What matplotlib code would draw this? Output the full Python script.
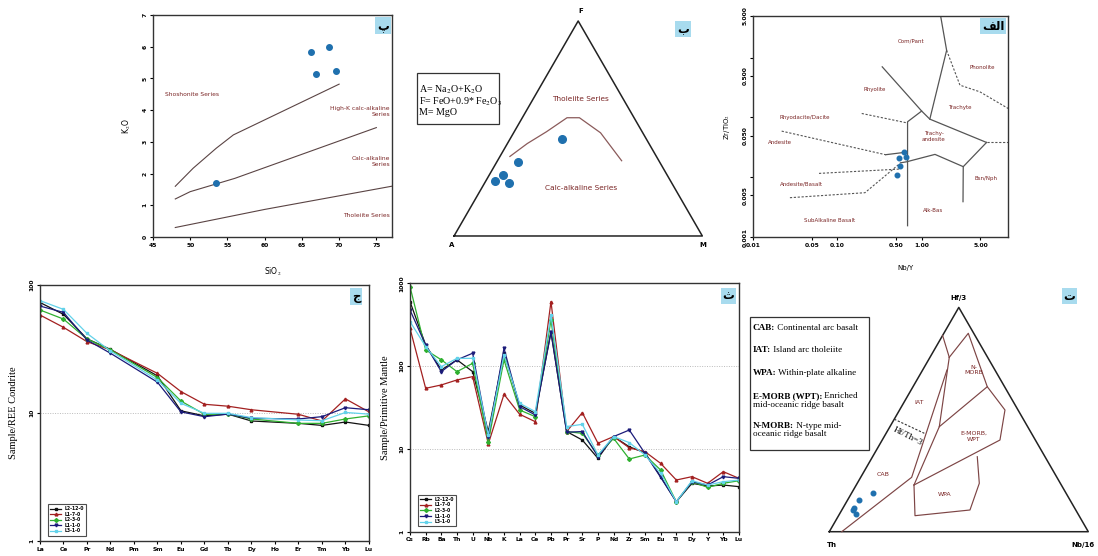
import numpy as np
import matplotlib.pyplot as plt
from matplotlib.patches import Rectangle
from matplotlib.ticker import NullFormatter

plt.rcParams['font.family'] = ['DejaVu Sans']
plt.rcParams['font.serif'] = ['Liberation Serif']
plt.rcParams['mathtext.fontset'] = 'stix'

# ---------------- data ----------------
# panel pe : K2O vs SiO2
sio2 = [66.2, 68.7, 66.9, 69.6, 53.5]
k2o = [5.83, 6.0, 5.13, 5.24, 1.71]
shosh_x = [48, 50.4, 53.5, 55.8, 70]
shosh_y = [1.6, 2.17, 2.8, 3.22, 4.82]
hik_x = [48, 50, 56, 75]
hik_y = [1.2, 1.43, 1.85, 3.45]
calc_x = [48, 60, 77.5]
calc_y = [0.3, 0.87, 1.62]

# panel be : AFM ternary (percent)
afm_a = [33.9, 56.9, 65.9, 70.7, 65.5]
afm_f = [44.9, 34.5, 28.4, 25.6, 24.5]
afm_m = [21.2, 8.6, 5.7, 3.7, 10.0]
div_a = [59, 49, 38.5, 27, 22, 17, 15]
div_f = [37, 43, 48.5, 55, 55, 48, 35]
div_m = [4, 8, 13, 18, 23, 35, 50]

# panel alef : Zr/TiO2 vs Nb/Y
nby = [0.621, 0.644, 0.542, 0.557, 0.504]
zrti = [0.0268, 0.0221, 0.0213, 0.0156, 0.0109]
solid_lines = [
    ([1.68, 1.98, 1.25], [4.95, 1.32, 0.0938]),
    ([0.34, 1.0, 1.25, 5.9], [0.70, 0.128, 0.0938, 0.0383]),
    ([1.0, 0.68, 0.68], [0.128, 0.0848, 0.00156]),
    ([5.9, 3.12, 3.10], [0.0383, 0.0151, 0.00393]),
    ([3.12, 1.44, 0.662, 0.56], [0.0151, 0.0242, 0.0182, 0.0175]),
    ([0.373, 0.662], [0.0239, 0.0264]),
]
dashed_lines = [
    ([0.0217, 0.373], [0.0592, 0.0239]),
    ([0.194, 0.662], [0.1166, 0.0815]),
    ([0.0603, 0.552], [0.01166, 0.01377]),
    ([0.0272, 0.212, 0.552], [0.00458, 0.00555, 0.0171]),
    ([1.98, 2.85, 4.92, 10.7], [1.32, 0.346, 0.268, 0.141]),
    ([5.9, 10.7], [0.0383, 0.0383]),
]
wf_names = ['Com/Pant', 'Phonolite', 'Rhyolite', 'Trachyte', 'Rhyodacite/Dacite',
            'Trachy-\nandesite', 'Andesite', 'Andesite/Basalt', 'Bsn/Nph', 'Alk-Bas',
            'SubAlkaline Basalt']
wf_x = [0.746, 5.2, 0.274, 2.85, 0.0404, 1.4, 0.0207, 0.0368, 5.8, 1.37, 0.0815]
wf_y = [1.9, 0.68, 0.293, 0.147, 0.0986, 0.0477, 0.0379, 0.00764, 0.0096, 0.00278, 0.0019]

# panel jim : REE chondrite normalised
ree = ['La', 'Ce', 'Pr', 'Nd', 'Pm', 'Sm', 'Eu', 'Gd', 'Tb', 'Dy', 'Ho', 'Er', 'Tm', 'Yb', 'Lu']
samples = ['L2-12-0', 'L1-7-0', 'L2-3-0', 'L1-1-0', 'L3-1-0']
nan = np.nan
ree_L2_12 = [73, 59, 38, 31.4, nan, 19.5, 10.4, 9.5, 9.8, 8.66, nan, 8.3, 8.0, 8.5, 8.0]
ree_L1_7 = [58.3, 46.7, 36.1, 31.1, nan, 20.4, 14.7, 11.7, 11.3, 10.6, nan, 9.77, 8.66, 12.9, 10.2]
ree_L2_3 = [63.8, 54.2, 37.9, 31.1, nan, 18.9, 12.4, 9.77, 9.8, 8.98, nan, 8.3, 8.3, 8.98, 9.5]
ree_L1_1 = [68.5, 61.1, 37.2, 29.3, nan, 17.4, 10.2, 9.36, 9.8, 9.09, nan, 8.98, 9.36, 11.0, 10.6]
ree_L3_1 = [75.5, 64.5, 41.9, 30.5, nan, 18.1, 11.9, 9.94, 9.94, 9.2, nan, 8.82, 8.7, 10.1, 9.8]

# panel se : primitive mantle spider
spd = ['Cs', 'Rb', 'Ba', 'Th', 'U', 'Nb', 'K', 'La', 'Ce', 'Pb', 'Pr', 'Sr', 'P', 'Nd',
       'Zr', 'Sm', 'Eu', 'Ti', 'Dy', 'Y', 'Yb', 'Lu']
pm_L2_12 = [601, 180, 89.8, 119, 85.7, 16.2, 143, 33.9, 26.9, 255, 16.2, 12.8, 7.69, 14.1,
            10.6, 9.0, 4.62, 2.3, 3.84, 3.56, 3.66, 3.5]
pm_L1_7 = [286, 53.9, 59.2, 68, 74.6, 11.5, 45.6, 26.2, 21.3, 601, 16.2, 27.4, 11.7, 14.1,
           10.3, 9.26, 6.69, 4.21, 4.62, 3.84, 5.31, 4.41]
pm_L2_3 = [912, 157, 119, 85.7, 108, 12.2, 119, 29.5, 24.5, 361, 16.2, 15.4, 8.44, 13.4,
           7.55, 8.44, 5.56, 2.3, 4.02, 3.43, 3.84, 4.13]
pm_L1_1 = [476, 180, 85.7, 119, 143, 14.1, 164, 32.4, 25.7, 261, 15.9, 16.2, 8.06, 14.1,
           16.9, 8.84, 4.54, 2.3, 4.02, 3.66, 4.62, 4.41]
pm_L3_1 = [345, 172, 98.5, 124, 124, 14.7, 136, 35.5, 28.2, 415, 18.6, 19.8, 8.44, 14.1,
           11.9, 8.44, 5.07, 2.3, 4.13, 3.66, 4.02, 4.2]

# panel te : Hf/3 - Th - Nb/16 ternary (fractions hf, th, nb)
hf_pts = [0.1712, 0.1413, 0.1043, 0.0968, 0.0789]
th_pts = [0.7445, 0.8136, 0.8514, 0.8589, 0.8586]
nb_pts = [0.0843, 0.0451, 0.0443, 0.0443, 0.0625]
fields = [
    ([0.875, 0.7776], [0.125, 0.148], [0.0, 0.0745]),
    ([0.7776, 0.8845, 0.6464, 0.5426, 0.4088, 0.2082],
     [0.148, 0.021, 0.0668, 0.0504, 0.1366, 0.5689],
     [0.0745, 0.0944, 0.2868, 0.407, 0.4546, 0.2229]),
    ([0.6464, 0.4681], [0.0668, 0.3412], [0.2868, 0.1907]),
    ([0.7776, 0.4681, 0.2082], [0.148, 0.3412, 0.5689], [0.0745, 0.1907, 0.2229]),
    ([0.7209, 0.2425, 0.0], [0.1852, 0.5607, 0.952], [0.0939, 0.1968, 0.048]),
    ([0.2082, 0.0714, 0.0968, 0.2158, 0.3344],
     [0.5689, 0.6334, 0.4084, 0.3129, 0.2614],
     [0.2229, 0.2952, 0.4948, 0.4713, 0.4042]),
]
hfth3 = ([0.5016, 0.4388], [0.4984, 0.4138], [0.0, 0.1474])

colors = ['#111111', '#a32020', '#2fb02f', '#1b1b7a', '#62d2ea']
markers = ['s', '^', 'D', 'v', 's']

BROWN = '#7a2525'
DOT = '#1f70ae'


def tag(ax, x, y, s, trans=None):
    ax.text(x, y, s, transform=trans if trans is not None else ax.transAxes,
            ha='center', va='center', fontsize=8.5, fontweight='bold', color='black',
            bbox=dict(boxstyle='square,pad=0.15', fc='#a8dbee', ec='none'), zorder=6)


def afm_xy(a, f, m):
    a, f, m = np.asarray(a, float), np.asarray(f, float), np.asarray(m, float)
    s = a + f + m
    return (m + 0.5 * f) / s, 0.866 * f / s


def hf_xy(hf, th, nb):
    hf, th, nb = np.asarray(hf, float), np.asarray(th, float), np.asarray(nb, float)
    s = hf + th + nb
    return (nb + 0.5 * hf) / s, 0.866 * hf / s


def small_ticks(ax):
    ax.tick_params(labelsize=4.3, length=2.5, width=0.8, pad=1.5)
    for lab in ax.get_xticklabels() + ax.get_yticklabels():
        lab.set_fontweight('bold')
    for sp in ax.spines.values():
        sp.set_linewidth(1.0)
        sp.set_color('#333333')


fig = plt.figure(figsize=(10.98, 5.56), dpi=100)
fig.patch.set_facecolor('white')

# ---------------- pe ----------------
ax1 = fig.add_axes([0.1393, 0.5737, 0.2177, 0.3993])
ax1.plot(shosh_x, shosh_y, color='#5a4444', lw=0.8)
ax1.plot(hik_x, hik_y, color='#5a4444', lw=0.8)
ax1.plot(calc_x, calc_y, color='#5a4444', lw=0.8)
ax1.plot(sio2, k2o, 'o', color=DOT, ms=4)
ax1.set_xlim(45, 77.1)
ax1.set_ylim(0, 7)
ax1.set_xticks([45, 50, 55, 60, 65, 70, 75])
ax1.set_yticks(range(8))
ax1.set_yticklabels([str(i) for i in range(8)], rotation=90, va='center')
small_ticks(ax1)
ax1.set_xlabel('SiO$_2$', fontsize=5.5)
ax1.xaxis.set_label_coords(0.5, -0.13)
ax1.set_ylabel('K$_2$O', fontsize=5.5)
ax1.yaxis.set_label_coords(-0.085, 0.5)
ax1.text(50.3, 4.5, 'Shoshonite Series', fontsize=4.3, color=BROWN, ha='center', va='center')
ax1.text(76.8, 3.97, 'High-K calc-alkaline\nSeries', fontsize=4.3, color=BROWN, ha='right', va='center')
ax1.text(76.8, 2.38, 'Calc-alkaline\nSeries', fontsize=4.3, color=BROWN, ha='right', va='center')
ax1.text(76.8, 0.69, 'Tholeiite Series', fontsize=4.3, color=BROWN, ha='right', va='center')
tag(ax1, 0.962, 0.952, '\u067E')

# ---------------- be ----------------
ax2 = fig.add_axes([0.3689, 0.5234, 0.2823, 0.4766])
ax2.set_xlim(-0.1973, 1.0511)
ax2.set_ylim(-0.1168, 0.9505)
ax2.axis('off')
tx, ty = afm_xy([100, 0, 0, 100], [0, 0, 100, 0], [0, 100, 0, 0])
ax2.plot(tx, ty, color='#222222', lw=1.1)
cx, cy = afm_xy(div_a, div_f, div_m)
ax2.plot(cx, cy, color='#8a5a5a', lw=0.9)
px, py = afm_xy(afm_a, afm_f, afm_m)
ax2.plot(px, py, 'o', color=DOT, ms=5.5)
ax2.text(0.51, 0.905, 'F', fontsize=5, fontweight='bold', ha='center', va='center')
ax2.text(-0.008, -0.036, 'A', fontsize=5, fontweight='bold', ha='center', va='center')
ax2.text(1.003, -0.036, 'M', fontsize=5, fontweight='bold', ha='center', va='center')
ax2.text(0.51, 0.55, 'Tholeiite Series', fontsize=5.3, color=BROWN, ha='center', va='center')
ax2.text(0.51, 0.195, 'Calc-alkaline Series', fontsize=5.3, color=BROWN, ha='center', va='center')
ax2.add_patch(Rectangle((-0.150, 0.451), 0.331, 0.205, fill=False, ec='#333333', lw=0.9))
ax2.text(-0.142, 0.588, 'A= Na$_2$O+K$_2$O', family='serif', fontsize=7.2, va='center')
ax2.text(-0.142, 0.541, 'F= FeO+0.9* Fe$_2$O$_3$', family='serif', fontsize=7.2, va='center')
ax2.text(-0.142, 0.497, 'M= MgO', family='serif', fontsize=7.2, va='center')
tag(ax2, 0.922, 0.834, '\u0628', trans=ax2.transData)

# ---------------- alef ----------------
ax3 = fig.add_axes([0.6861, 0.5732, 0.2322, 0.3986])
ax3.set_xscale('log')
ax3.set_yscale('log')
for xs, ys in solid_lines:
    ax3.plot(xs, ys, color='#555555', lw=0.9)
for xs, ys in dashed_lines:
    ax3.plot(xs, ys, color='#555555', lw=0.8, ls=(0, (2, 1.5)))
ax3.plot(nby, zrti, 'o', color=DOT, ms=3.3)
for name, x, y in zip(wf_names, wf_x, wf_y):
    ax3.text(x, y, name, fontsize=4, color=BROWN, ha='center', va='center')
ax3.set_xlim(0.01, 10.7)
ax3.set_ylim(0.001, 5)
ax3.set_xticks([0.01, 0.05, 0.1, 0.5, 1, 5])
ax3.set_xticklabels(['0.01', '0.05', '0.10', '0.50', '1.00', '5.00'])
ax3.set_xticks([], minor=True)
ax3.set_yticks([0.001, 0.005, 0.05, 0.5, 5])
ax3.set_yticklabels(['0.001', '0.005', '0.050', '0.500', '5.000'], rotation=90, va='center')
ax3.set_yticks([0.01, 0.1, 1], minor=True)
ax3.xaxis.set_minor_formatter(NullFormatter())
ax3.yaxis.set_minor_formatter(NullFormatter())
ax3.tick_params(which='minor', length=2.5, width=0.8)
small_ticks(ax3)
ax3.set_xlabel('Nb/Y', fontsize=5)
ax3.xaxis.set_label_coords(0.595, -0.125)
ax3.set_ylabel('Zr/TiO$_2$', fontsize=5)
ax3.yaxis.set_label_coords(-0.085, 0.5)
tag(ax3, 0.94, 0.953, '\uFED2\uFEDF\uFE8D')

# ---------------- jim ----------------
ax4 = fig.add_axes([0.0364, 0.027, 0.2996, 0.4604])
xr = np.arange(len(ree))
for name, vals, c, mk in zip(samples, [ree_L2_12, ree_L1_7, ree_L2_3, ree_L1_1, ree_L3_1], colors, markers):
    v = np.array(vals, float)
    ok = ~np.isnan(v)
    ax4.plot(xr[ok], v[ok], color=c, marker=mk, ms=2, lw=0.9, label=name)
ax4.axhline(10, color='#bbbbbb', lw=0.7, ls=(0, (1, 1.5)), zorder=0)
ax4.set_yscale('log')
ax4.set_xlim(0, len(ree) - 1)
ax4.set_ylim(1, 100)
ax4.set_xticks(xr)
ax4.set_xticklabels(ree)
ax4.set_yticks([1, 10, 100])
ax4.set_yticklabels(['1', '10', '100'], rotation=90, va='center')
ax4.set_yticks([], minor=True)
small_ticks(ax4)
ax4.set_ylabel('Sample/REE Condrite', family='serif', fontsize=7.5)
ax4.yaxis.set_label_coords(-0.067, 0.5)
leg = ax4.legend(loc='lower left', bbox_to_anchor=(0.018, 0.012), fontsize=3.3, frameon=True,
                 fancybox=False, edgecolor='#222222', handlelength=2.2, borderpad=0.5,
                 labelspacing=0.12, handletextpad=0.8)
leg.get_frame().set_linewidth(0.8)
for t in leg.get_texts():
    t.set_fontweight('bold')
tag(ax4, 0.962, 0.955, '\u062C')

# ---------------- se ----------------
ax5 = fig.add_axes([0.3734, 0.0437, 0.2996, 0.4468])
xs5 = np.arange(len(spd))
for name, vals, c, mk in zip(samples, [pm_L2_12, pm_L1_7, pm_L2_3, pm_L1_1, pm_L3_1], colors, markers):
    ax5.plot(xs5, vals, color=c, marker=mk, ms=2, lw=0.9, label=name)
ax5.axhline(10, color='#bbbbbb', lw=0.7, ls=(0, (1, 1.5)), zorder=0)
ax5.axhline(100, color='#bbbbbb', lw=0.7, ls=(0, (1, 1.5)), zorder=0)
ax5.set_yscale('log')
ax5.set_xlim(0, len(spd) - 1)
ax5.set_ylim(1, 1000)
ax5.set_xticks(xs5)
ax5.set_xticklabels(spd)
ax5.set_yticks([1, 10, 100, 1000])
ax5.set_yticklabels(['1', '10', '100', '1000'], rotation=90, va='center')
ax5.set_yticks([], minor=True)
small_ticks(ax5)
ax5.set_ylabel('Sample/Primitive Mantle', family='serif', fontsize=7.5)
ax5.yaxis.set_label_coords(-0.061, 0.5)
leg = ax5.legend(loc='lower left', bbox_to_anchor=(0.018, 0.012), fontsize=3.3, frameon=True,
                 fancybox=False, edgecolor='#222222', handlelength=2.2, borderpad=0.5,
                 labelspacing=0.12, handletextpad=0.8)
leg.get_frame().set_linewidth(0.8)
for t in leg.get_texts():
    t.set_fontweight('bold')
tag(ax5, 0.968, 0.949, '\u062B')

# ---------------- te ----------------
ax6 = fig.add_axes([0.6785, 0.0, 0.3215, 0.4874])
ax6.set_xlim(-0.3255, 1.0375)
ax6.set_ylim(-0.0938, 0.9525)
ax6.axis('off')
tx, ty = hf_xy([0, 0, 1, 0], [1, 0, 0, 1], [0, 1, 0, 0])
ax6.plot(tx, ty, color='#222222', lw=1.1)
for h, t, n in fields:
    fx, fy = hf_xy(h, t, n)
    ax6.plot(fx, fy, color='#7d4545', lw=0.85)
dx, dy = hf_xy(*hfth3)
ax6.plot(dx, dy, color='#333333', lw=0.8, ls=(0, (2, 1.5)))
ax6.text(0.302, 0.366, 'Hf/Th=3', family='serif', fontsize=6.5, rotation=-27, ha='center', va='center')
px, py = hf_xy(hf_pts, th_pts, nb_pts)
ax6.plot(px, py, 'o', color=DOT, ms=3.3)
ax6.text(0.558, 0.624, 'N-\nMORB', fontsize=4.5, color=BROWN, ha='center', va='center')
ax6.text(0.346, 0.500, 'IAT', fontsize=4.5, color=BROWN, ha='center', va='center')
ax6.text(0.558, 0.3676, 'E-MORB,\nWPT', fontsize=4.5, color=BROWN, ha='center', va='center')
ax6.text(0.206, 0.219, 'CAB', fontsize=4.5, color=BROWN, ha='center', va='center')
ax6.text(0.447, 0.145, 'WPA', fontsize=4.5, color=BROWN, ha='center', va='center')
ax6.text(0.497, 0.902, 'Hf/3', fontsize=5, fontweight='bold', ha='center', va='center')
ax6.text(0.0104, -0.051, 'Th', fontsize=5, fontweight='bold', ha='center', va='center')
ax6.text(0.98, -0.051, 'Nb/16', fontsize=5, fontweight='bold', ha='center', va='center')
ax6.add_patch(Rectangle((-0.306, 0.3154), 0.459, 0.5146, fill=False, ec='#333333', lw=0.9))
box_lines = [('CAB:', ' Continental arc basalt', 0.785),
             ('IAT:', ' Island arc tholeiite', 0.7015),
             ('WPA:', ' Within-plate alkaline', 0.614),
             ('E-MORB (WPT):', ' Enriched', 0.524),
             ('', 'mid-oceanic ridge basalt', 0.489),
             ('N-MORB:', ' N-type mid-', 0.409),
             ('', 'oceanic ridge basalt', 0.376)]
for bold, rest, y in box_lines:
    t1 = ax6.text(-0.296, y, bold, family='serif', fontsize=6.6, fontweight='bold', va='center')
    if bold:
        ax6.annotate(rest, xy=(1, 0.5), xycoords=t1, family='serif', fontsize=6.6, va='center')
    else:
        ax6.text(-0.296, y, rest, family='serif', fontsize=6.6, va='center')
tag(ax6, 0.927, 0.91, '\u062A', trans=ax6.transData)

fig.savefig('out.png', dpi=100)
